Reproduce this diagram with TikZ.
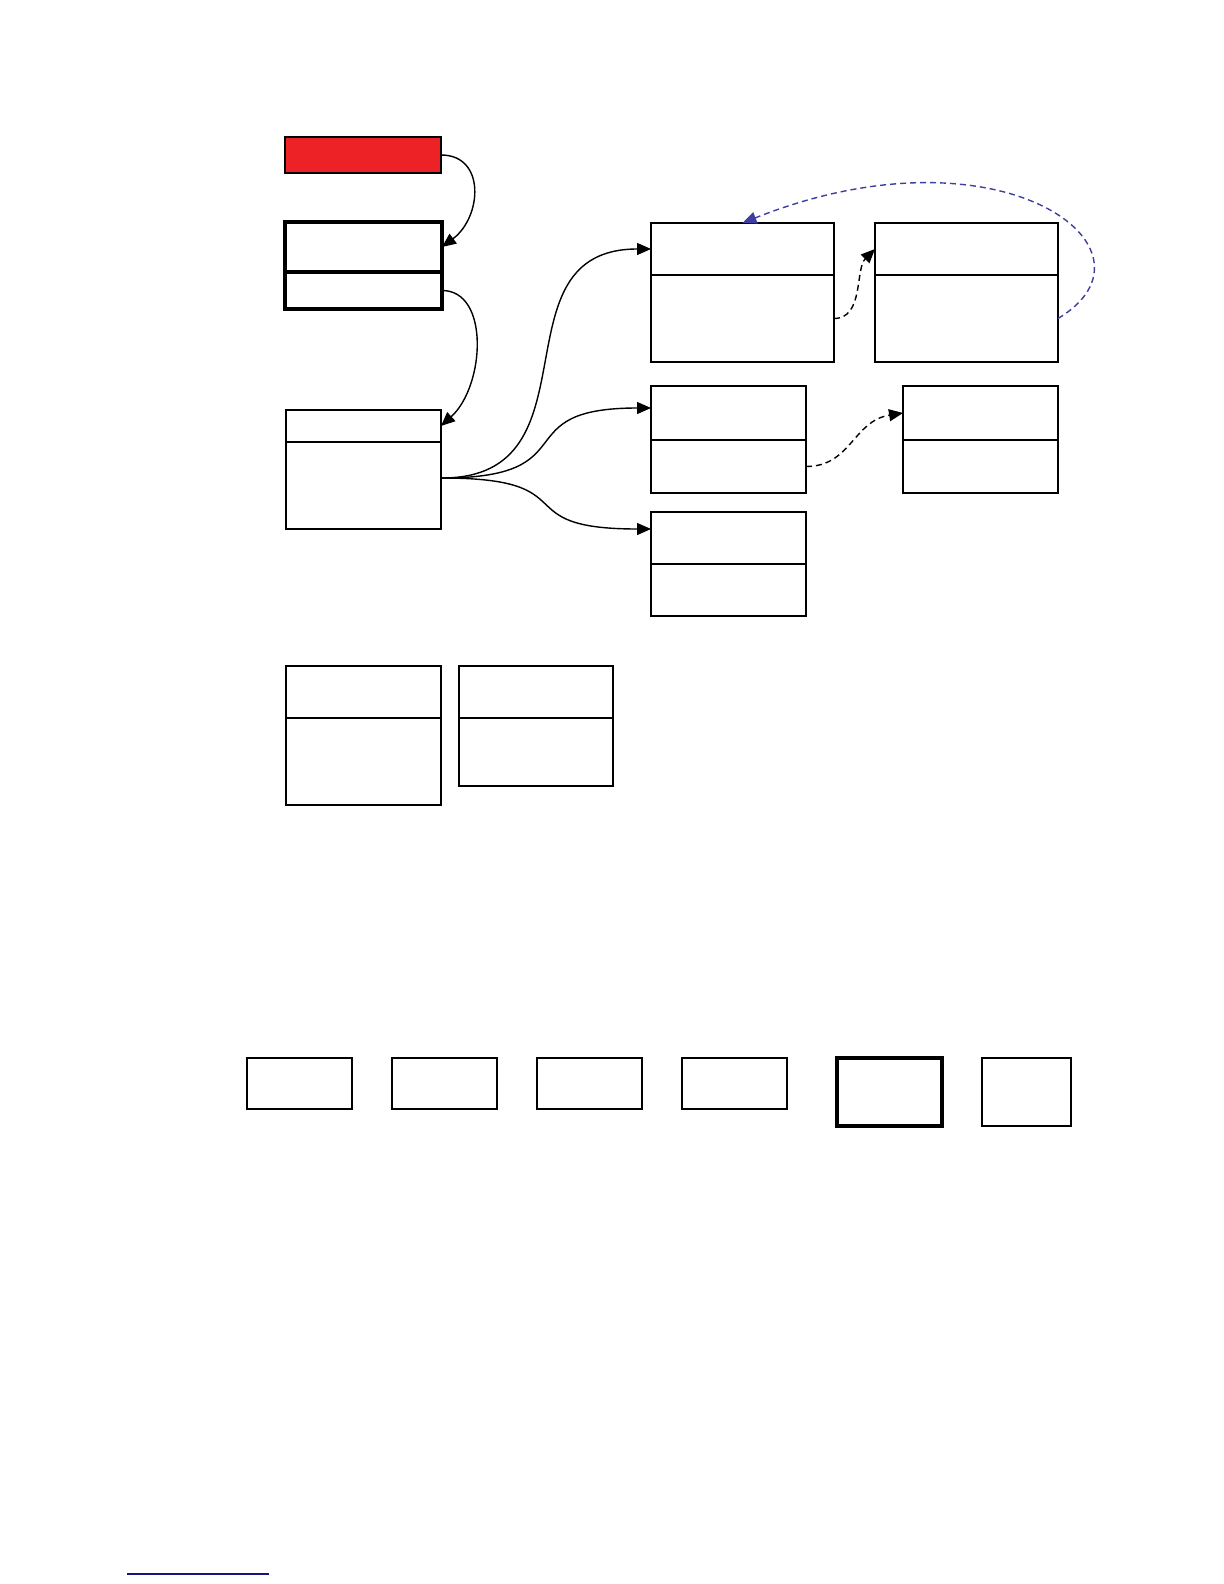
\documentclass[tikz,border=0pt]{standalone}
\usetikzlibrary{positioning,arrows.meta}
\definecolor{boxred}{RGB}{236,34,39}
\definecolor{linkblue}{RGB}{62,62,160}
\definecolor{navy}{RGB}{20,20,130}
\tikzset{
  cell/.style={draw, inner sep=0pt, outer sep=0pt, anchor=north west, line width=0.8pt},
  midcell/.style={cell, line width=1.1pt},
  boldcell/.style={cell, line width=1.8pt},
  link/.style={line width=0.7pt, -{Triangle[length=7pt,width=6pt]}},
  weak/.style={link, dash pattern=on 3pt off 2pt}
}
\begin{document}
\begin{tikzpicture}[x=0.5pt, y=-0.5pt]
\useasboundingbox (0,0) rectangle (1224,1584);
% left column
\node[cell, fill=boxred, line width=0.6pt, minimum width=78pt, minimum height=18pt] (red) at (285,137) {};
\node[boldcell, minimum width=78.5pt, minimum height=25pt] (btop) at (285,222) {};
\node[boldcell, minimum width=78.5pt, minimum height=18.5pt, below=0pt of btop] (bbot) {};
\node[cell, line width=1pt, minimum width=77.5pt, minimum height=16pt] (ctop) at (286,410) {};
\node[cell, line width=1pt, minimum width=77.5pt, minimum height=43.5pt, below=0pt of ctop] (cbot) {};
% right part
\node[cell, minimum width=91.5pt, minimum height=26pt] (dtop) at (651,223) {};
\node[cell, minimum width=91.5pt, minimum height=43.5pt, below=0pt of dtop] (dbot) {};
\node[midcell, minimum width=91.5pt, minimum height=26pt] (etop) at (875,223) {};
\node[midcell, minimum width=91.5pt, minimum height=43.5pt, below=0pt of etop] (ebot) {};
\node[midcell, minimum width=77.5pt, minimum height=27pt] (ftop) at (651,386) {};
\node[midcell, minimum width=77.5pt, minimum height=26.5pt, below=0pt of ftop] (fbot) {};
\node[midcell, minimum width=77.5pt, minimum height=27pt] (htop) at (903,386) {};
\node[midcell, minimum width=77.5pt, minimum height=26.5pt, below=0pt of htop] (hbot) {};
\node[cell, line width=1pt, minimum width=77.5pt, minimum height=26pt] (gtop) at (651,512) {};
\node[cell, line width=1pt, minimum width=77.5pt, minimum height=26pt, below=0pt of gtop] (gbot) {};
% lower left pair
\node[midcell, minimum width=77.5pt, minimum height=26pt] (ltop) at (286,666) {};
\node[midcell, minimum width=77.5pt, minimum height=43.5pt, below=0pt of ltop] (lbot) {};
\node[midcell, minimum width=77pt, minimum height=26pt] (mtop) at (459,666) {};
\node[midcell, minimum width=77pt, minimum height=34pt, below=0pt of mtop] (mbot) {};
% bottom row
\foreach \x [count=\i] in {247,392,537,682}
  \node[midcell, minimum width=52.5pt, minimum height=25.5pt] (k\i) at (\x,1058) {};
\node[boldcell, minimum width=52.5pt, minimum height=34pt] (k5) at (837,1058) {};
\node[midcell, minimum width=44.5pt, minimum height=34pt] (k6) at (982,1058) {};
% connectors
\coordinate (fan) at (442,478);
\draw[link] (red.east) .. controls +(45,0) and +(40,-30) .. (btop.east);
\draw[link] (bbot.east) .. controls +(48,0) and +(44,-40) .. (ctop.east);
\draw[link] (fan) .. controls +(160,0) and +(-160,0) .. (dtop.west);
\draw[link] (fan) .. controls +(148,0) and +(-148,0) .. ([yshift=2.5pt]ftop.west);
\draw[link] (fan) .. controls +(148,0) and +(-148,0) .. ([yshift=4.5pt]gtop.west);
\draw[weak] (dbot.east) .. controls +(30,0) and +(-20,20) .. (etop.west);
\draw[weak] (fbot.east) .. controls +(45,0) and +(-50,8) .. (htop.west);
\draw[weak, linkblue] (ebot.east) .. controls +(115,-69) and +(258,-103) .. (dtop.north);
\draw[navy, line width=1pt] (127,1574) -- (269,1574);
\end{tikzpicture}
\end{document}
